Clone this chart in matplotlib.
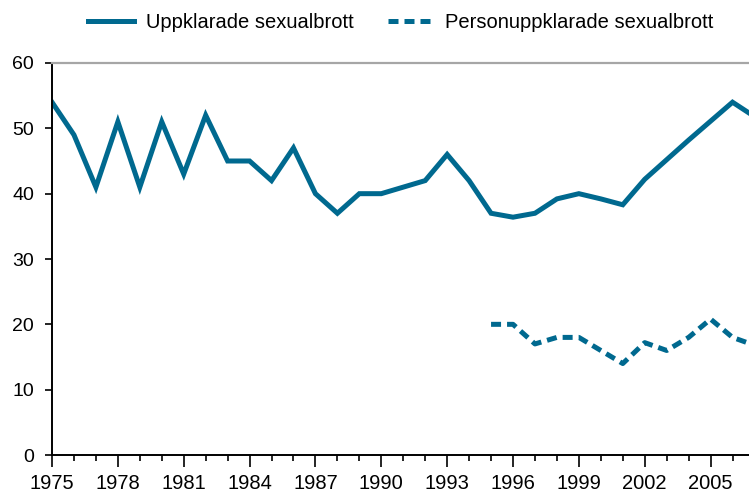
import numpy as np
import matplotlib
matplotlib.use("Agg")
import matplotlib.pyplot as plt
from matplotlib.ticker import MultipleLocator

plt.rcParams['font.family'] = ['Liberation Sans', 'DejaVu Sans']

# Uppklarade sexualbrott (procent), 1975-2007
years = list(range(1975, 2008))
uppklarade = [54, 49, 41, 51, 41, 51, 43, 52, 45, 45, 42, 47, 40, 37, 40, 40,
              41, 42, 46, 42, 37, 36.4, 37, 39.2, 40, 39.2, 38.3, 42.2, 45.2,
              48.2, 51.1, 54, 51.8]

# Personuppklarade sexualbrott, 1995-2007
years_person = list(range(1995, 2008))
personuppklarade = [20, 20, 17, 18, 18, 16, 14, 17.2, 16, 18, 20.8, 18, 16.8]

tick_years = list(range(1975, 2006, 3))

color = '#00698f'

fig = plt.figure(figsize=(7.49, 4.94), dpi=100)
ax = fig.add_axes([52 / 749, 1 - 455 / 494, 1 - 52 / 749, (455 - 63) / 494])

l1, = ax.plot(years, uppklarade, color=color, lw=3.6, solid_joinstyle='miter',
              label='Uppklarade sexualbrott')
l2, = ax.plot(years_person, personuppklarade, color=color, lw=3.6,
              dashes=(2, 1.2), label='Personuppklarade sexualbrott')

ax.set_xlim(1975, 2006.75)
ax.set_ylim(0, 60)
ax.set_xticks(tick_years)
ax.set_xticks(years[:-1], minor=True)
ax.yaxis.set_major_locator(MultipleLocator(10))

ax.spines['right'].set_visible(False)
ax.spines['top'].set_color('#a6a6a6')
ax.spines['top'].set_linewidth(1.6)
ax.spines['left'].set_linewidth(1.4)
ax.spines['bottom'].set_linewidth(1.4)

ax.tick_params(axis='x', which='major', length=8.5, width=1.2, labelsize=14.5, pad=5)
ax.tick_params(axis='x', which='minor', length=4.5, width=1.2)
ax.tick_params(axis='y', which='major', length=5, width=1.2, labelsize=14, pad=8)

fig.legend(handles=[l1, l2], loc='center', bbox_to_anchor=(0.535, 1 - 23 / 494),
           ncol=2, frameon=False, fontsize=14.5, handlelength=2.3,
           columnspacing=1.7, handletextpad=0.55)

fig.savefig('out.png', dpi=100)
